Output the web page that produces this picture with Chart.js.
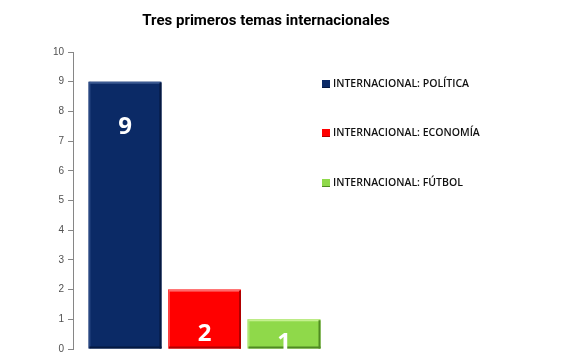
<!DOCTYPE html>
<html>
<head>
<meta charset="utf-8">
<script src="https://cdn.jsdelivr.net/npm/chart.js@4.4.1/dist/chart.umd.min.js"></script>
<style>
html,body{margin:0;padding:0;background:#fff;}
#wrap{width:586px;height:361px;position:relative;}
</style>
</head>
<body>
<div id="wrap"><canvas id="c" width="586" height="361"></canvas></div>
<script>
const chartTitle = "Tres primeros temas internacionales";
const categories = [""];
const seriesNames = ["INTERNACIONAL: POLÍTICA", "INTERNACIONAL: ECONOMÍA", "INTERNACIONAL: FÚTBOL"];
const seriesValues = [9, 2, 1];
const seriesColors = ["#0b2a66", "#ff0000", "#8fd94a"];
const seriesDark = ["#051840", "#b00000", "#4f8a22"];
const seriesLight = ["#3c5a92", "#ff6a6a", "#c4f08e"];
const yTicks = [0,1,2,3,4,5,6,7,8,9,10];

const titlePlugin = {
  id: 'customTitle',
  afterDraw(chart) {
    const ctx = chart.ctx;
    ctx.save();
    ctx.font = "bold 16px Roboto";
    const w = ctx.measureText(chartTitle).width;
    const size = Math.max(12, Math.min(18, 16 * 248 / w));
    ctx.font = "bold " + size.toFixed(1) + "px Roboto";
    ctx.fillStyle = "#000";
    ctx.textAlign = "center";
    ctx.textBaseline = "middle";
    ctx.fillText(chartTitle, 266, 21);
    ctx.restore();
  }
};

const bevelPlugin = {
  id: 'bevel',
  afterDatasetsDraw(chart) {
    const ctx = chart.ctx;
    chart.data.datasets.forEach((ds, i) => {
      const meta = chart.getDatasetMeta(i);
      meta.data.forEach(bar => {
        const w = bar.width;
        const l = bar.x - w/2, r = bar.x + w/2, t = bar.y, b = bar.base;
        ctx.save();
        ctx.fillStyle = seriesLight[i];
        ctx.fillRect(l+1, t, w-2, 2);
        ctx.globalAlpha = 0.6;
        ctx.fillRect(l, t, 2, b-t);
        ctx.globalAlpha = 1;
        ctx.fillStyle = seriesDark[i];
        ctx.fillRect(r-2, t+1, 2, b-t-1);
        ctx.fillRect(l+1, b-2, w-1, 2);
        ctx.restore();
        ctx.save();
        ctx.beginPath();
        ctx.rect(l, t, w, b - t + 2);
        ctx.clip();
        ctx.font = "bold 24px 'Open Sans'";
        ctx.fillStyle = "#fff";
        ctx.textAlign = "center";
        ctx.textBaseline = "middle";
        const ly = Math.min(t + 45, b - 5);
        ctx.fillText(String(ds.data[0]), bar.x, ly);
        ctx.restore();
      });
    });
  }
};

const legendPlugin = {
  id: 'customLegend',
  afterDraw(chart) {
    const ctx = chart.ctx;
    const rows = [84, 133, 183];
    ctx.save();
    chart.data.datasets.forEach((ds, i) => {
      const y = rows[i];
      ctx.fillStyle = seriesColors[i];
      ctx.fillRect(322, y-4, 8, 8);
      ctx.fillStyle = seriesDark[i];
      ctx.fillRect(322, y+3, 8, 1);
      ctx.fillStyle = "#111";
      ctx.font = "600 10.5px 'Open Sans'";
      ctx.textAlign = "left";
      ctx.textBaseline = "middle";
      ctx.fillText(ds.label, 333, y);
    });
    ctx.restore();
  }
};

new Chart(document.getElementById('c'), {
  type: 'bar',
  data: {
    labels: categories,
    datasets: seriesNames.map((n, i) => ({
      label: n,
      data: [seriesValues[i]],
      backgroundColor: seriesColors[i],
      borderWidth: 0,
      categoryPercentage: 0.907,
      barPercentage: 0.918
    }))
  },
  options: {
    responsive: false,
    animation: false,
    devicePixelRatio: 1,
    layout: { padding: { top: 52, bottom: 12, right: 250, left: 0 } },
    plugins: { legend: { display: false }, title: { display: false }, tooltip: { enabled: false } },
    scales: {
      x: { display: false },
      y: {
        min: 0, max: 10,
        afterFit(scale) { scale.width = 73; },
        afterBuildTicks(scale) { scale.ticks = yTicks.map(v => ({ value: v })); },
        ticks: { font: { family: 'Arial', size: 10 }, color: '#505050', padding: 4 },
        grid: { drawOnChartArea: false, tickLength: 5, color: '#868686' },
        border: { color: '#868686', width: 1 }
      }
    }
  },
  plugins: [titlePlugin, bevelPlugin, legendPlugin]
});
</script>
</body>
</html>
